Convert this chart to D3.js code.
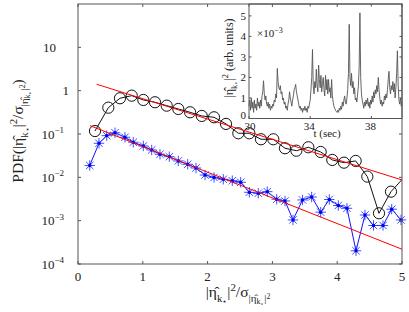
<!DOCTYPE html>
<html><head><meta charset="utf-8">
<script src="https://cdn.jsdelivr.net/npm/d3@7"></script>
<style>
body{margin:0;background:#fff}
svg{display:block}
text{font-family:"Liberation Serif","DejaVu Serif",serif;fill:#222}
</style>
</head><body>
<svg id="c" width="409" height="312"></svg>
<script>
// ---------- data ----------
const xTicks = [0, 1, 2, 3, 4, 5];
const yTicks = [1e-4, 1e-3, 1e-2, 1e-1, 1, 10];
const yTickBase = ["10", "10", "10", "10", "1", "10"];
const yTickExp  = ["−4", "−3", "−2", "−1", "", ""];

// circles (black)
const circX = [0.262,0.468,0.648,0.829,1.008,1.188,1.369,1.548,1.73,1.91,2.099,2.284,2.474,2.644,2.824,3.014,3.194,3.37,3.555,3.745,3.924,4.105,4.285,4.465,4.645,4.830,5.012];
const circY = [0.117,0.405,0.668,0.767,0.610,0.540,0.451,0.378,0.317,0.261,0.243,0.171,0.104,0.104,0.0756,0.0756,0.0469,0.0412,0.0494,0.0385,0.0252,0.0218,0.0239,0.0104,0.00148,0.00467,0.00927];

// stars (blue)
const starX = [0.181,0.324,0.443,0.571,0.725,0.853,1.008,1.137,1.265,1.409,1.548,1.693,1.821,1.960,2.099,2.242,2.381,2.511,2.644,2.782,2.921,3.066,3.194,3.318,3.465,3.606,3.745,3.878,4.017,4.151,4.290,4.429,4.560,4.707,4.841,4.985];
const starY = [0.0188,0.0611,0.0915,0.107,0.0841,0.0645,0.0530,0.0428,0.0341,0.0300,0.0239,0.0200,0.0164,0.0113,0.00993,0.00902,0.00837,0.00769,0.00452,0.00429,0.00467,0.00312,0.00285,0.00104,0.00301,0.00352,0.00157,0.00308,0.00224,0.00193,0.000202,0.00135,0.000774,0.000774,0.00184,0.00104];

// exponential fits (red)
const fitUpperX = [0.289, 5];
const fitUpperY = [1.405, 0.00869];
const fitLowerX = [0.185, 5];
const fitLowerY = [0.156, 0.000219];

// inset time series (units of 1e-3), t from 30 to 40 step 0.05
const insetT0 = 30, insetDt = 0.05;
const insetY = [
 0.6,0.9,0.4,1.0,0.5,0.8,0.3,0.9,0.5,0.7,0.4,1.0,0.6,0.8,0.5,0.9,0.6,1.1,1.3,1.84,
 1.2,0.9,1.1,0.7,0.6,0.8,0.5,0.7,0.4,0.6,0.5,0.7,0.6,0.9,0.8,1.2,1.0,2.44,1.8,1.5,
 1.4,1.6,1.2,1.3,0.9,1.0,0.7,0.8,0.5,0.6,0.4,0.7,0.9,1.3,1.0,0.8,0.6,0.9,1.1,1.4,
 1.5,1.66,1.3,1.1,0.9,0.7,0.5,0.6,0.4,0.5,0.3,0.5,0.4,0.6,0.4,0.5,0.3,0.6,0.5,0.7,
 0.9,1.4,2.0,3.36,1.6,1.2,1.8,1.5,2.4,1.6,1.3,2.6,1.9,1.5,2.1,1.3,1.7,2.0,1.4,1.1,
 2.1,1.4,1.9,1.2,1.9,1.3,1.5,1.0,1.9,1.1,0.8,0.6,0.5,0.4,0.35,0.3,0.4,0.3,0.5,0.4,
 0.6,0.45,0.8,0.6,0.9,1.1,0.8,0.7,1.0,1.4,2.2,4.59,2.0,1.6,2.2,1.5,1.8,1.2,1.5,0.9,
 1.0,0.8,1.2,1.6,2.5,5.15,2.0,1.2,0.9,0.7,0.5,0.8,0.6,0.9,0.7,1.0,0.6,0.8,0.5,0.9,
 0.7,1.1,0.8,1.3,1.0,1.4,1.2,1.6,1.3,2.0,1.4,1.0,0.7,0.9,0.6,0.8,0.7,1.1,0.9,1.2,
 1.0,1.4,1.9,2.3,1.5,1.2,1.6,1.4,1.8,1.3,1.7,1.0,1.5,2.2,3.3,1.6,0.9,0.7,1.0,0.6,0.8
];
const insetXTicks = [30, 34, 38];
const insetYTicks = [0, 1, 2, 3, 4, 5];

// ---------- drawing ----------
const svg = d3.select("#c");
const x = d3.scaleLinear().domain([0, 5]).range([78, 402]);
const y = d3.scaleLog().domain([1e-4, 1e2]).range([264, 4]);
const frame = "#555";

// parts: {t, off (baseline shift in base-size units), sc (size factor), dx (em of part)}
function rich(g, parts, px, py, size) {
  const t = g.append("text").attr("x", px).attr("y", py).style("font-size", size + "px");
  let cur = 0;
  parts.forEach(p => {
    const sh = p.off * size;
    const fs = p.sc * size;
    const ts = t.append("tspan").attr("dy", sh - cur).style("font-size", fs + "px").text(p.t);
    if (p.dx) ts.attr("dx", p.dx * fs);
    cur = sh;
  });
  return t;
}
function P(t, off, sc, dx) { return {t: t, off: off, sc: sc, dx: dx || 0}; }
const ETA = "η\u0302";

// |eta_k*|^2 / sigma_{|eta_k*|^2}
function ratioParts() {
  return [
    P("|" + ETA, 0, 1), P("k", 0.3, 0.7), P("⋆", 0.42, 0.5), P("|", 0, 1), P("2", -0.4, 0.7),
    P("/σ", 0, 1), P("|" + ETA, 0.32, 0.7), P("k", 0.48, 0.5), P("⋆", 0.55, 0.4),
    P("|", 0.32, 0.7), P("2", 0.1, 0.5)
  ];
}

svg.append("defs").append("clipPath").attr("id", "clipMain")
  .append("rect").attr("x", 78).attr("y", 4).attr("width", 324).attr("height", 260);

const plot = svg.append("g");
const lineFn = d3.line().x(d => x(d[0])).y(d => y(d[1]));

// black series
const circData = circX.map((v, i) => [v, circY[i]]);
plot.append("path").attr("d", lineFn(circData)).attr("fill", "none")
  .attr("stroke", "#111").attr("stroke-width", 1).attr("clip-path", "url(#clipMain)");
plot.selectAll("circle.c").data(circData.filter(d => d[0] <= 5)).enter().append("circle")
  .attr("cx", d => x(d[0])).attr("cy", d => y(d[1])).attr("r", 5.6)
  .attr("fill", "none").attr("stroke", "#111").attr("stroke-width", 1);

// blue series
const starData = starX.map((v, i) => [v, starY[i]]);
plot.append("path").attr("d", lineFn(starData)).attr("fill", "none")
  .attr("stroke", "#1010ff").attr("stroke-width", 1).attr("clip-path", "url(#clipMain)");
const starPath = "M-5.2,0H5.2M0,-5.2V5.2M-3.7,-3.7L3.7,3.7M-3.7,3.7L3.7,-3.7";
plot.selectAll("path.s").data(starData).enter().append("path")
  .attr("d", starPath).attr("transform", d => `translate(${x(d[0])},${y(d[1])})`)
  .attr("fill", "none").attr("stroke", "#2a3cff").attr("stroke-width", 0.9);
plot.selectAll("circle.sd").data(starData).enter().append("circle")
  .attr("cx", d => x(d[0])).attr("cy", d => y(d[1])).attr("r", 1.7).attr("fill", "#0000ee");

// red fits
[[fitUpperX, fitUpperY], [fitLowerX, fitLowerY]].forEach(([fx, fy]) => {
  plot.append("path").attr("d", lineFn(fx.map((v, i) => [v, fy[i]])))
    .attr("fill", "none").attr("stroke", "#ff0000").attr("stroke-width", 1);
});

// main frame and ticks
const ax = svg.append("g");
ax.append("rect").attr("x", 78).attr("y", 4).attr("width", 324).attr("height", 260)
  .attr("fill", "none").attr("stroke", frame).attr("stroke-width", 1);
xTicks.forEach(v => {
  ax.append("line").attr("x1", x(v)).attr("x2", x(v)).attr("y1", 264).attr("y2", 261).attr("stroke", frame);
  ax.append("line").attr("x1", x(v)).attr("x2", x(v)).attr("y1", 4).attr("y2", 7).attr("stroke", frame);
  ax.append("text").attr("x", x(v)).attr("y", 281).attr("text-anchor", "middle")
    .style("font-size", "13px").text(d3.format("d")(v));
});
yTicks.forEach((v, i) => {
  ax.append("line").attr("x1", 78).attr("x2", 81).attr("y1", y(v)).attr("y2", y(v)).attr("stroke", frame);
  ax.append("line").attr("x1", 402).attr("x2", 399).attr("y1", y(v)).attr("y2", y(v)).attr("stroke", frame);
  const exp = yTickExp[i];
  const endX = exp ? 64 : (yTickBase[i] === "1" ? 69 : 56);
  const t = ax.append("text").attr("x", endX).attr("y", y(v) + 4.5).attr("text-anchor", "end")
    .style("font-size", "13px");
  t.append("tspan").text(yTickBase[i]);
  if (exp) t.append("tspan").attr("dy", -5.5).style("font-size", "9px").text(exp);
});

// axis labels
rich(svg, [P("PDF(", 0, 1), ...ratioParts(), P(")", 0, 1)], 0, 0, 15.5)
  .attr("text-anchor", "middle").attr("transform", "translate(23,131) rotate(-90)");
rich(svg, ratioParts(), 238, 297, 15.5).attr("text-anchor", "middle");

// ---------- inset ----------
const ix = d3.scaleLinear().domain([30, 40]).range([249, 402]);
const iy = d3.scaleLinear().domain([0, 5.58]).range([118.5, 4]);
const inset = svg.append("g");
inset.append("rect").attr("x", 249).attr("y", 4).attr("width", 153).attr("height", 114.5)
  .attr("fill", "none").attr("stroke", frame).attr("stroke-width", 1);
const insetData = insetY.map((v, i) => [insetT0 + i * insetDt, v]);
inset.append("path").attr("d", d3.line().x(d => ix(d[0])).y(d => iy(d[1]))(insetData))
  .attr("fill", "none").attr("stroke", "#555").attr("stroke-width", 0.9);
insetXTicks.forEach(v => {
  inset.append("line").attr("x1", ix(v)).attr("x2", ix(v)).attr("y1", 118.5).attr("y2", 116).attr("stroke", frame);
  inset.append("line").attr("x1", ix(v)).attr("x2", ix(v)).attr("y1", 4).attr("y2", 6.5).attr("stroke", frame);
  inset.append("text").attr("x", ix(v) + (v === 30 ? 1 : -1)).attr("y", 130).attr("text-anchor", "middle")
    .style("font-size", "11px").text(v);
});
insetYTicks.forEach(v => {
  inset.append("line").attr("x1", 249).attr("x2", 251.5).attr("y1", iy(v)).attr("y2", iy(v)).attr("stroke", frame);
  inset.append("line").attr("x1", 402).attr("x2", 399.5).attr("y1", iy(v)).attr("y2", iy(v)).attr("stroke", frame);
  inset.append("text").attr("x", 246).attr("y", iy(v) + (v === 0 ? 0.5 : 4)).attr("text-anchor", "end")
    .style("font-size", "11px").text(v);
});
const mult = inset.append("text").attr("x", 257).attr("y", 37).style("font-size", "11px");
mult.append("tspan").text("×10");
mult.append("tspan").attr("dy", -4.5).style("font-size", "8px").text("−3");
inset.append("text").attr("x", 327).attr("y", 137).attr("text-anchor", "middle")
  .style("font-size", "11px").text("t (sec)");
rich(inset, [
  P("|" + ETA, 0, 1), P("k", 0.3, 0.7), P("⋆", 0.42, 0.5), P("|", 0, 1), P("2", -0.4, 0.7),
  P(" (arb. units)", 0, 1)
], 0, 0, 12).attr("text-anchor", "middle").attr("transform", "translate(233,58) rotate(-90)");
</script>
</body></html>
